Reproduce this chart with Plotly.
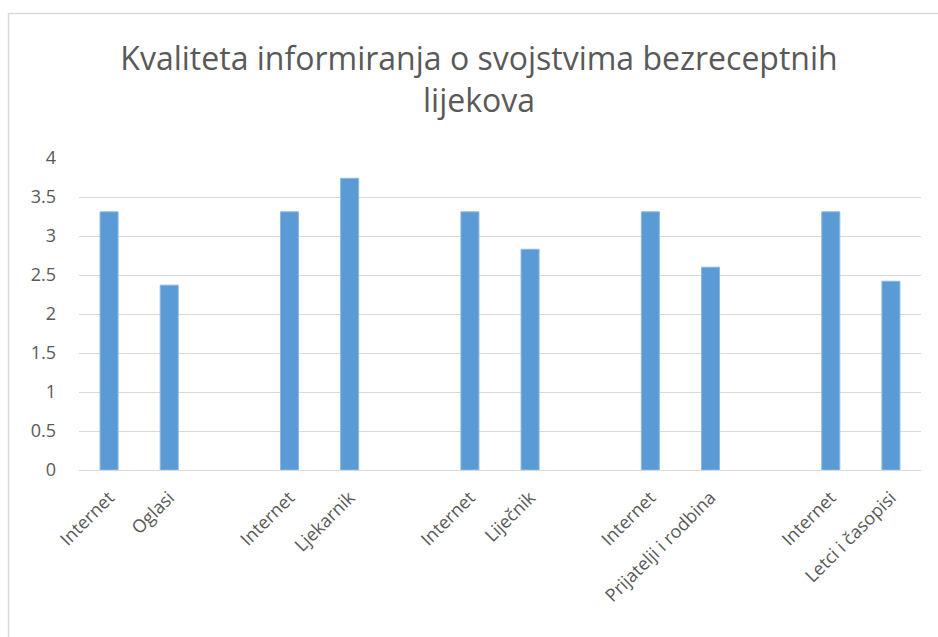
import plotly.graph_objects as go

labels = ["Internet", "Oglasi", "",
          "Internet", "Ljekarnik", "",
          "Internet", "Liječnik", "",
          "Internet", "Prijatelji i rodbina", "",
          "Internet", "Letci i časopisi"]
values = [3.31, 2.37, None,
          3.31, 3.74, None,
          3.31, 2.83, None,
          3.31, 2.60, None,
          3.31, 2.42]
y_ticks = [0, 0.5, 1, 1.5, 2, 2.5, 3, 3.5, 4]
y_tick_text = ["0", "0.5", "1", "1.5", "2", "2.5", "3", "3.5", "4"]
title_text = "Kvaliteta informiranja o svojstvima bezreceptnih<br>lijekova"

positions = list(range(len(labels)))

fig = go.Figure(go.Bar(
    x=positions,
    y=values,
    width=0.3,
    marker=dict(color="#5B9BD5", line=dict(color="#8DB8E3", width=1)),
    hoverinfo="skip",
))

font_family = "Open Sans, Liberation Sans, sans-serif"
text_color = "#595959"

fig.update_layout(
    width=938, height=637,
    paper_bgcolor="white", plot_bgcolor="white",
    margin=dict(l=79, r=17, t=158, b=167, autoexpand=False),
    showlegend=False,
    title=dict(text=title_text, x=479/938, xanchor="center",
               y=1 - 70/637, yanchor="top", yref="container",
               font=dict(family=font_family, size=32, color=text_color)),
    xaxis=dict(range=[-0.5, len(labels) - 0.5],
               tickmode="array", tickvals=positions, ticktext=labels,
               tickangle=-45, showgrid=False, zeroline=False,
               showline=True, linecolor="#D9D9D9", linewidth=1,
               ticks="", ticklabelstandoff=9,
               tickfont=dict(family=font_family, size=18, color=text_color)),
    yaxis=dict(range=[0, 4], tickmode="array", tickvals=y_ticks, ticktext=y_tick_text,
               showgrid=True, gridcolor="#D9D9D9", gridwidth=1,
               zeroline=False, showline=False, ticks="", ticklabelstandoff=22,
               tickfont=dict(family=font_family, size=18, color=text_color)),
    shapes=[dict(type="rect", xref="paper", yref="paper",
                 x0=(8.5 - 79) / 842, x1=1.2,
                 y0=-1.0, y1=(470 - 13.5) / 312,
                 line=dict(color="#D9D9D9", width=1.5), fillcolor="rgba(0,0,0,0)",
                 layer="below")],
)

fig.write_html("out.html", config={"displayModeBar": False},
               post_script="document.body.style.margin='0px';document.body.style.overflow='hidden';")
